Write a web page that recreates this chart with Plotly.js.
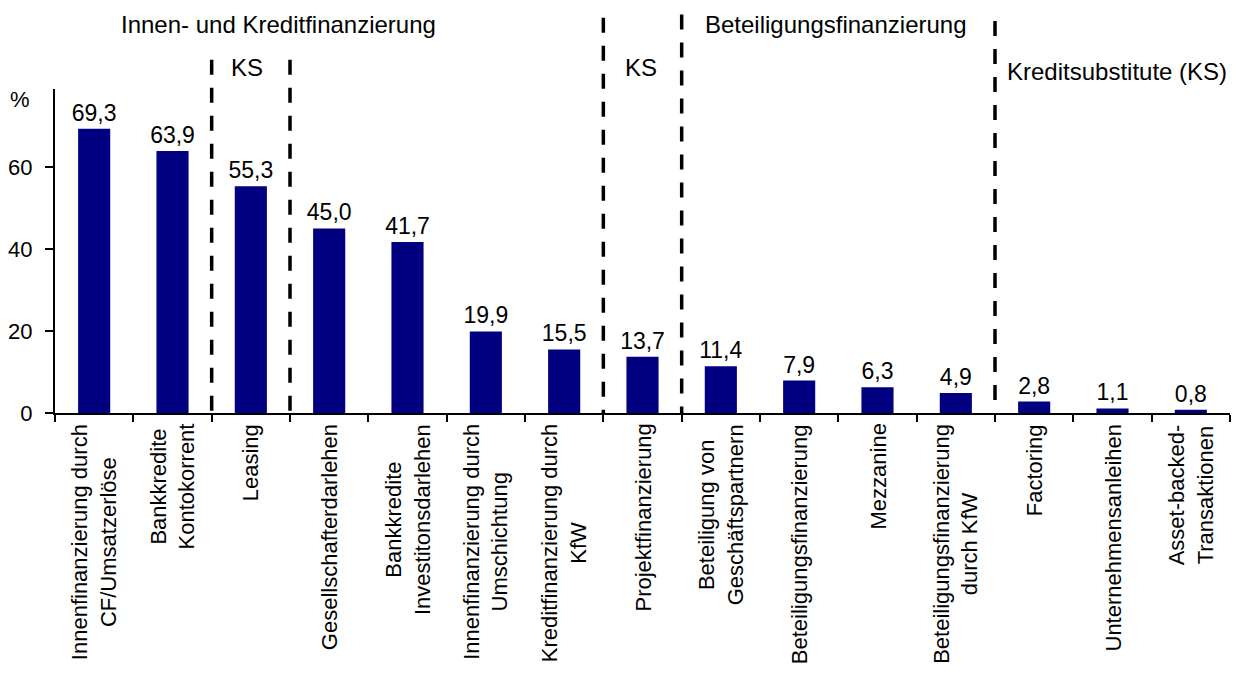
<!DOCTYPE html>
<html>
<head>
<meta charset="utf-8">
<script src="https://cdn.plot.ly/plotly-3.0.1.min.js"></script>
<style>html,body{margin:0;padding:0;background:#fff;}#chart{width:1238px;height:673px;}</style>
</head>
<body>
<div id="chart"></div>
<script>
const categories = [
  "Innenfinanzierung durch<br>CF/Umsatzerlöse",
  "Bankkredite<br>Kontokorrent",
  "Leasing",
  "Gesellschafterdarlehen",
  "Bankkredite<br>Investitonsdarlehen",
  "Innenfinanzierung durch<br>Umschichtung",
  "Kreditfinanzierung durch<br>KfW",
  "Projektfinanzierung",
  "Beteiligung von<br>Geschäftspartnern",
  "Beteiligungsfinanzierung",
  "Mezzanine",
  "Beteiligungsfinanzierung<br>durch KfW",
  "Factoring",
  "Unternehmensanleihen",
  "Asset-backed-<br>Transaktionen"
];
const values = [69.3, 63.9, 55.3, 45.0, 41.7, 19.9, 15.5, 13.7, 11.4, 7.9, 6.3, 4.9, 2.8, 1.1, 0.8];
const yTicks = [0, 20, 40, 60];

// group separators (between categories) and their top ends (paper units)
const separatorPos = [1.5, 2.5, 6.5, 7.5, 11.5];
const separatorTop = [1.09, 1.09, 1.22, 1.23, 1.21];

// group labels
const groupLabels = [
  {text: "Innen- und Kreditfinanzierung", x: 2.35, y: 1.198},
  {text: "KS", x: 1.95, y: 1.066},
  {text: "KS", x: 6.98, y: 1.066},
  {text: "Beteiligungsfinanzierung", x: 9.47, y: 1.198},
  {text: "Kreditsubstitute (KS)", x: 13.06, y: 1.053}
];

const FONT = "Arial, 'Liberation Sans', sans-serif";

const trace = {
  type: "bar",
  x: categories,
  y: values,
  marker: {color: "#000080", line: {width: 0}},
  texttemplate: "%{y:.1f}",
  textposition: "outside",
  constraintext: "none",
  cliponaxis: false,
  textfont: {family: FONT, size: 23, color: "#000"},
  hoverinfo: "x+y"
};

const shapes = separatorPos.map((p, i) => ({
  type: "line", xref: "x", yref: "paper",
  x0: p, x1: p, y0: separatorTop[i], y1: 0,
  line: {color: "#000", width: 3.5, dash: "15px,13px"}
}));

const annotations = [];
categories.forEach((c, i) => {
  annotations.push({
    xref: "x", yref: "paper", x: i, y: 0, yshift: -9,
    xanchor: "center", yanchor: "top",
    text: c, textangle: -90, showarrow: false, align: "center",
    font: {family: FONT, size: 22, color: "#000"}
  });
});
groupLabels.forEach(g => {
  annotations.push({
    xref: "x", yref: "paper", x: g.x, y: g.y,
    xanchor: "center", yanchor: "middle",
    text: g.text, showarrow: false,
    font: {family: FONT, size: 24, color: "#000"}
  });
});
annotations.push({
  xref: "paper", yref: "paper", x: -0.0298, y: 0.967,
  xanchor: "center", yanchor: "middle", text: "%", showarrow: false,
  font: {family: FONT, size: 22, color: "#000"}
});

const layout = {
  width: 1238, height: 673,
  margin: {l: 55, r: 8, t: 89, b: 260, pad: 0},
  paper_bgcolor: "#fff", plot_bgcolor: "#fff",
  separators: ",.",
  showlegend: false,
  bargap: 0.59,
  font: {family: FONT, size: 22, color: "#000"},
  xaxis: {
    type: "category",
    showticklabels: false,
    showline: true, linecolor: "#000", linewidth: 2,
    ticks: "outside", tickson: "boundaries", ticklen: 7, tickwidth: 2, tickcolor: "#000",
    showgrid: false, zeroline: false
  },
  yaxis: {
    range: [0, 79],
    tickvals: yTicks,
    ticktext: yTicks.map(String),
    showline: true, linecolor: "#000", linewidth: 2,
    ticks: "outside", ticklen: 8, tickwidth: 2, tickcolor: "#000",
    ticklabelstandoff: 8,
    tickfont: {family: FONT, size: 22, color: "#000"},
    showgrid: false, zeroline: false
  },
  shapes: shapes,
  annotations: annotations
};

Plotly.newPlot("chart", [trace], layout, {displayModeBar: false, staticPlot: true});
</script>
</body>
</html>
